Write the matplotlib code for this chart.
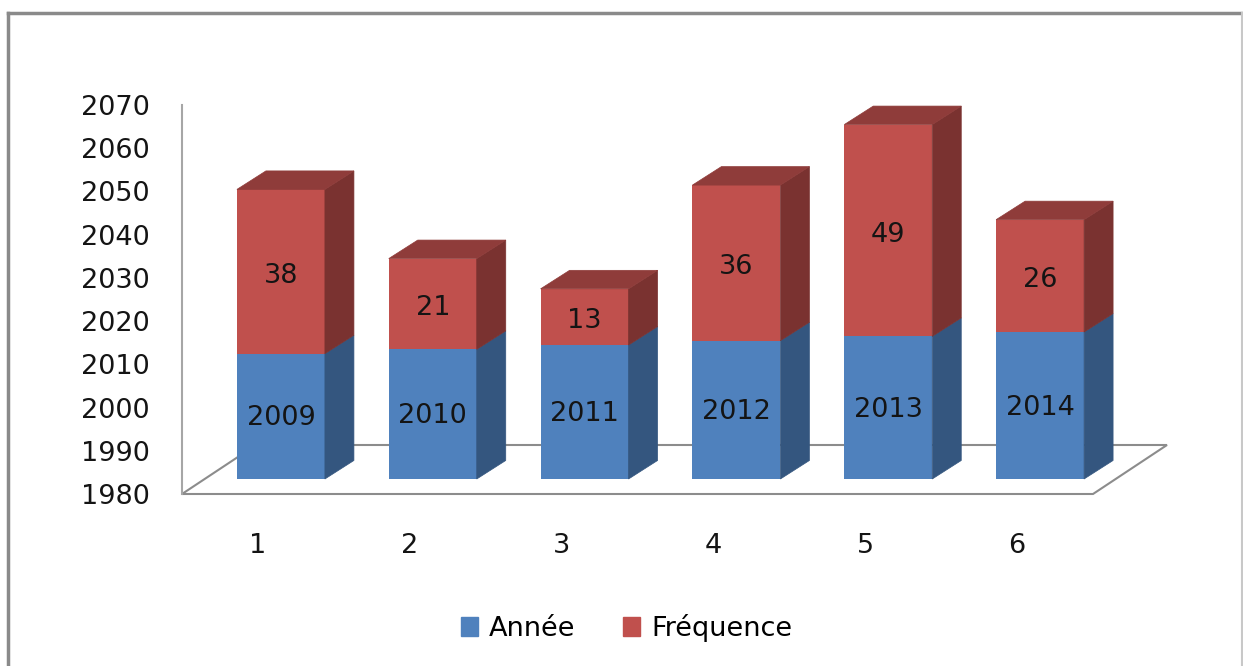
import matplotlib
matplotlib.use("Agg")
import matplotlib.pyplot as plt
from matplotlib.patches import Polygon, Patch
from matplotlib.lines import Line2D
import numpy as np

# ---- data ----
categories = [1, 2, 3, 4, 5, 6]
annee = [2009, 2010, 2011, 2012, 2013, 2014]
frequence = [38, 21, 13, 36, 49, 26]
series_names = ["Année", "Fréquence"]
y_ticks = [1980, 1990, 2000, 2010, 2020, 2030, 2040, 2050, 2060, 2070]
y_base = 1980

# ---- style ----
FONT = "DejaVu Sans"
FS = 19.5
BLUE_FRONT, BLUE_SIDE, BLUE_TOP = "#4F81BD", "#34567F", "#3F6798"
RED_FRONT, RED_SIDE, RED_TOP = "#C0504D", "#7A3230", "#8F3C3A"
GRID_GRAY = "#8C8C8C"
TXT = "#141414"

W, H = 1243, 666
fig = plt.figure(figsize=(W / 100, H / 100), dpi=100)
fig.patch.set_facecolor("white")

# axes rectangle in pixels (floor front plane)
ax_l, ax_r = 182, 1093
ax_top, ax_bot = 105, 494
ax = fig.add_axes([ax_l / W, 1 - ax_bot / H, (ax_r - ax_l) / W, (ax_bot - ax_top) / H])
ax.set_xlim(0.5, len(categories) + 0.5)
ax.set_ylim(y_ticks[0], y_ticks[-1])
ax.set_facecolor("none")

# pixel -> data unit conversions
ux = (len(categories)) / (ax_r - ax_l)
uy = (y_ticks[-1] - y_ticks[0]) / (ax_bot - ax_top)

# depth offsets (style)
off_x, off_y = 23 * ux, 15 * uy        # bar front plane offset from floor front
dep_x, dep_y = 29 * ux, 18.5 * uy      # bar depth
fl_x, fl_y = 74 * ux, 49 * uy          # floor depth
bw = 88 * ux                           # bar width

# floor
x0, x1 = ax.get_xlim()
floor = Polygon([(x0, y_base), (x1, y_base), (x1 + fl_x, y_base + fl_y), (x0 + fl_x, y_base + fl_y)],
                closed=True, facecolor="none", edgecolor=GRID_GRAY, linewidth=1.5,
                zorder=1, clip_on=False)
ax.add_patch(floor)

xs = np.array(categories, dtype=float) + off_x
blue_h = np.array(annee) - y_base
red_h = np.array(frequence)
bottom0 = y_base + off_y

ax.bar(xs, blue_h, width=bw, bottom=bottom0, color=BLUE_FRONT, zorder=3, clip_on=False)
ax.bar(xs, red_h, width=bw, bottom=bottom0 + blue_h, color=RED_FRONT, zorder=3, clip_on=False)

def side(xr, ya, yb, color):
    return Polygon([(xr, ya), (xr + dep_x, ya + dep_y), (xr + dep_x, yb + dep_y), (xr, yb)],
                   closed=True, facecolor=color, edgecolor=color, linewidth=0.5,
                   zorder=3, clip_on=False)

for xc, bh, rh in zip(xs, blue_h, red_h):
    xl, xr = xc - bw / 2, xc + bw / 2
    yb0 = bottom0
    yb1 = bottom0 + bh
    yr1 = yb1 + rh
    ax.add_patch(side(xr, yb0, yb1, BLUE_SIDE))
    ax.add_patch(side(xr, yb1, yr1, RED_SIDE))
    top = Polygon([(xl, yr1), (xl + dep_x, yr1 + dep_y), (xr + dep_x, yr1 + dep_y), (xr, yr1)],
                  closed=True, facecolor=RED_TOP, edgecolor=RED_TOP, linewidth=0.5,
                  zorder=3, clip_on=False)
    ax.add_patch(top)

# value labels
for xc, yr, bh in zip(xs, annee, blue_h):
    ax.text(xc, bottom0 + bh / 2 - 0.5, f"{yr}", ha="center", va="center",
            fontsize=FS, family=FONT, color=TXT, zorder=5)
for xc, bh, rh in zip(xs, blue_h, red_h):
    ax.text(xc, bottom0 + bh + rh / 2 - 1, f"{rh}", ha="center", va="center",
            fontsize=FS, family=FONT, color=TXT, zorder=5)

# axes styling
for s in ["top", "right", "bottom"]:
    ax.spines[s].set_visible(False)
ax.spines["left"].set_color("#A6A6A6")
ax.spines["left"].set_linewidth(1.5)
ax.set_yticks(y_ticks)
ax.set_yticklabels([str(t) for t in y_ticks], fontsize=FS, family=FONT, color=TXT)
ax.set_xticks(categories)
ax.set_xticklabels([str(c) for c in categories], fontsize=FS, family=FONT, color=TXT)
ax.tick_params(axis="y", length=0, pad=23)
ax.tick_params(axis="x", length=0, pad=28)

# legend
handles = [Patch(facecolor=BLUE_FRONT, edgecolor=BLUE_FRONT),
           Patch(facecolor=RED_FRONT, edgecolor=RED_FRONT)]
fig.legend(handles, series_names, loc="center", bbox_to_anchor=(0.504, 1 - 628 / H),
           ncol=2, frameon=False, prop={"family": FONT, "size": FS},
           handlelength=0.65, handleheight=0.65, handletextpad=0.4, columnspacing=1.75)

# outer border
fig.add_artist(Line2D([8 / W, 8 / W], [0, 1 - 12.5 / H], transform=fig.transFigure,
                      color="#8A8A8A", linewidth=2.5))
fig.add_artist(Line2D([8 / W, 1241.5 / W], [1 - 12.5 / H, 1 - 12.5 / H], transform=fig.transFigure,
                      color="#8A8A8A", linewidth=2.5))
fig.add_artist(Line2D([1241.5 / W, 1241.5 / W], [0, 1 - 12.5 / H], transform=fig.transFigure,
                      color="#C8C8C8", linewidth=1.5))

fig.savefig("out.png", dpi=100)
